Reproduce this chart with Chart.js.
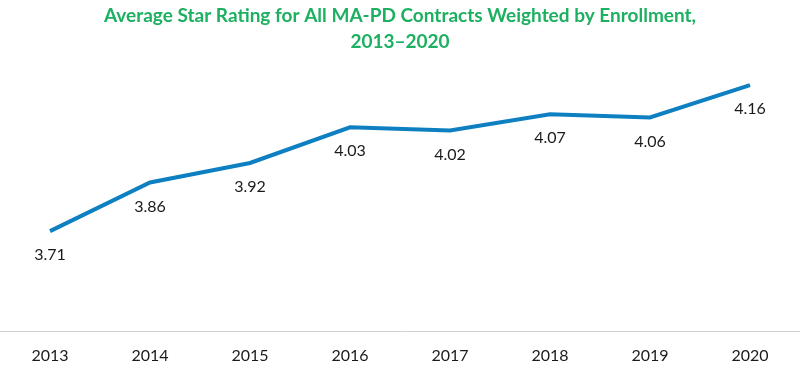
<!DOCTYPE html>
<html>
<head>
<meta charset="utf-8">
<script src="https://cdn.jsdelivr.net/npm/chart.js@4/dist/chart.umd.min.js"></script>
<style>
html,body{margin:0;padding:0;background:#fff;}
#wrap{width:800px;height:369px;position:relative;}
</style>
</head>
<body>
<div id="wrap"><canvas id="c" width="800" height="369"></canvas></div>
<script>
const years = ["2013","2014","2015","2016","2017","2018","2019","2020"];
const ratings = [3.71, 3.86, 3.92, 4.03, 4.02, 4.07, 4.06, 4.16];
const titleLines = ["Average Star Rating for All MA-PD Contracts Weighted by Enrollment,", "2013\u20132020"];

const labelPlugin = {
  id: 'pointLabels',
  afterDatasetsDraw(chart) {
    const ctx = chart.ctx;
    const meta = chart.getDatasetMeta(0);
    ctx.save();
    ctx.font = '16px Lato, "Open Sans", sans-serif';
    ctx.fillStyle = '#1a1a1a';
    ctx.textAlign = 'center';
    ctx.textBaseline = 'middle';
    meta.data.forEach((pt, i) => {
      ctx.fillText(ratings[i].toFixed(2), pt.x, pt.y + 24);
    });
    ctx.restore();
  }
};

new Chart(document.getElementById('c'), {
  type: 'line',
  data: {
    labels: years,
    datasets: [{
      data: ratings,
      borderColor: '#0E80C2',
      borderWidth: 4,
      pointRadius: 0,
      tension: 0,
      fill: false
    }]
  },
  options: {
    responsive: false,
    animation: false,
    layout: { padding: { left: 0, right: 0, top: 0, bottom: -10 } },
    plugins: {
      legend: { display: false },
      tooltip: { enabled: false },
      title: {
        display: true,
        text: titleLines,
        color: '#1DB061',
        font: { family: 'Lato, "Open Sans", sans-serif', size: 19, weight: 'bold', lineHeight: 1.37 },
        padding: { top: 3, bottom: 17 }
      }
    },
    scales: {
      x: {
        offset: true,
        grid: { display: false, drawTicks: false },
        border: { display: true, color: '#d0d0d0', width: 1 },
        ticks: { color: '#1a1a1a', font: { family: 'Lato, "Open Sans", sans-serif', size: 16 }, padding: 14 }
      },
      y: {
        display: false,
        min: 3.4,
        max: 4.2
      }
    }
  },
  plugins: [labelPlugin]
});
</script>
</body>
</html>
